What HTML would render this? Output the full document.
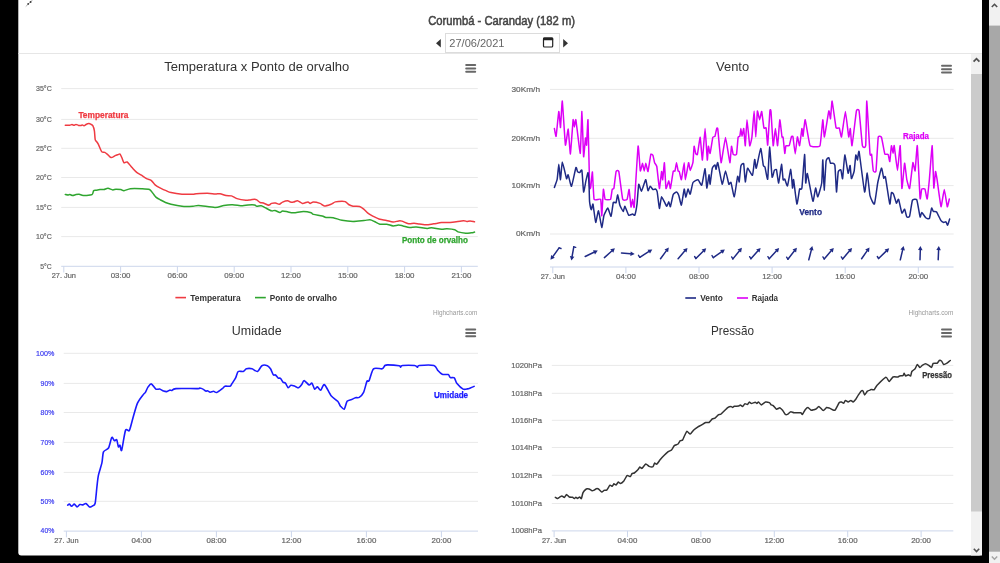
<!DOCTYPE html><html><head><meta charset="utf-8"><style>html,body{margin:0;padding:0;background:#000;width:1000px;height:563px;overflow:hidden}svg{display:block;will-change:transform;font-family:"Liberation Sans",sans-serif}</style></head><body>
<svg width="1000" height="563" viewBox="0 0 1000 563">
<rect width="1000" height="563" fill="#000"/>
<path d="M18.3,0 H982 V552.5 Q982,555.5 979,555.5 H21.3 Q18.3,555.5 18.3,552.5 Z" fill="#fff"/>
<path d="M26,6.3 L32.5,0" stroke="#aaa" stroke-width="0.9" stroke-linecap="round"/>
<g fill="#3a3a3a"><circle cx="28.2" cy="3.9" r="0.95"/><circle cx="30.6" cy="2.0" r="0.95"/></g>
<text x="501.6" y="24.5" font-size="12" fill="#444" text-anchor="middle" textLength="146.8" lengthAdjust="spacingAndGlyphs" stroke="#444" stroke-width="0.5">Corumbá - Caranday (182 m)</text>
<rect x="445.5" y="33.5" width="114" height="19" fill="#fff" stroke="#dcdcdc" stroke-width="1"/>
<text x="449.3" y="47" font-size="11" fill="#666" textLength="55.2" lengthAdjust="spacingAndGlyphs">27/06/2021</text>
<rect x="543.5" y="38" width="9.2" height="9" rx="1" fill="none" stroke="#222" stroke-width="1.2"/>
<rect x="543" y="37.6" width="10.2" height="2.6" rx="0.8" fill="#222"/>
<path d="M436,43.2 L440.8,39 L440.8,47.4 Z" fill="#333"/>
<path d="M568,43.2 L563.2,39 L563.2,47.4 Z" fill="#333"/>
<rect x="18.3" y="53" width="963.7" height="1" fill="#e6e6e6"/>
<rect x="61.2" y="88.10" width="416.6" height="1" fill="#e9e9e9"/>
<text x="51.8" y="90.9" font-size="7.6" fill="#666666" text-anchor="end" textLength="15.8" lengthAdjust="spacingAndGlyphs" stroke="#666666" stroke-width="0.2">35°C</text>
<rect x="61.2" y="118.90" width="416.6" height="1" fill="#e9e9e9"/>
<text x="51.8" y="121.7" font-size="7.6" fill="#666666" text-anchor="end" textLength="15.8" lengthAdjust="spacingAndGlyphs" stroke="#666666" stroke-width="0.2">30°C</text>
<rect x="61.2" y="147.80" width="416.6" height="1" fill="#e9e9e9"/>
<text x="51.8" y="150.6" font-size="7.6" fill="#666666" text-anchor="end" textLength="15.8" lengthAdjust="spacingAndGlyphs" stroke="#666666" stroke-width="0.2">25°C</text>
<rect x="61.2" y="177.00" width="416.6" height="1" fill="#e9e9e9"/>
<text x="51.8" y="179.8" font-size="7.6" fill="#666666" text-anchor="end" textLength="15.8" lengthAdjust="spacingAndGlyphs" stroke="#666666" stroke-width="0.2">20°C</text>
<rect x="61.2" y="206.90" width="416.6" height="1" fill="#e9e9e9"/>
<text x="51.8" y="209.7" font-size="7.6" fill="#666666" text-anchor="end" textLength="15.8" lengthAdjust="spacingAndGlyphs" stroke="#666666" stroke-width="0.2">15°C</text>
<rect x="61.2" y="236.10" width="416.6" height="1" fill="#e9e9e9"/>
<text x="51.8" y="238.9" font-size="7.6" fill="#666666" text-anchor="end" textLength="15.8" lengthAdjust="spacingAndGlyphs" stroke="#666666" stroke-width="0.2">10°C</text>
<text x="51.8" y="268.6" font-size="7.6" fill="#666666" text-anchor="end" textLength="11.5" lengthAdjust="spacingAndGlyphs" stroke="#666666" stroke-width="0.2">5°C</text>
<rect x="61.2" y="265.80" width="416.6" height="1" fill="#ccd6eb"/>
<rect x="63.30" y="266.3" width="1" height="6.2" fill="#ccd6eb"/>
<text x="63.8" y="278.1" font-size="7.8" fill="#666666" text-anchor="middle" textLength="24.3" lengthAdjust="spacingAndGlyphs" stroke="#666666" stroke-width="0.2">27. Jun</text>
<rect x="120.10" y="266.3" width="1" height="6.2" fill="#ccd6eb"/>
<text x="120.6" y="278.1" font-size="7.8" fill="#666666" text-anchor="middle" textLength="19.8" lengthAdjust="spacingAndGlyphs" stroke="#666666" stroke-width="0.2">03:00</text>
<rect x="176.90" y="266.3" width="1" height="6.2" fill="#ccd6eb"/>
<text x="177.4" y="278.1" font-size="7.8" fill="#666666" text-anchor="middle" textLength="19.8" lengthAdjust="spacingAndGlyphs" stroke="#666666" stroke-width="0.2">06:00</text>
<rect x="233.70" y="266.3" width="1" height="6.2" fill="#ccd6eb"/>
<text x="234.2" y="278.1" font-size="7.8" fill="#666666" text-anchor="middle" textLength="19.8" lengthAdjust="spacingAndGlyphs" stroke="#666666" stroke-width="0.2">09:00</text>
<rect x="290.50" y="266.3" width="1" height="6.2" fill="#ccd6eb"/>
<text x="291.0" y="278.1" font-size="7.8" fill="#666666" text-anchor="middle" textLength="19.8" lengthAdjust="spacingAndGlyphs" stroke="#666666" stroke-width="0.2">12:00</text>
<rect x="347.30" y="266.3" width="1" height="6.2" fill="#ccd6eb"/>
<text x="347.8" y="278.1" font-size="7.8" fill="#666666" text-anchor="middle" textLength="19.8" lengthAdjust="spacingAndGlyphs" stroke="#666666" stroke-width="0.2">15:00</text>
<rect x="404.10" y="266.3" width="1" height="6.2" fill="#ccd6eb"/>
<text x="404.6" y="278.1" font-size="7.8" fill="#666666" text-anchor="middle" textLength="19.8" lengthAdjust="spacingAndGlyphs" stroke="#666666" stroke-width="0.2">18:00</text>
<rect x="460.90" y="266.3" width="1" height="6.2" fill="#ccd6eb"/>
<text x="461.4" y="278.1" font-size="7.8" fill="#666666" text-anchor="middle" textLength="19.8" lengthAdjust="spacingAndGlyphs" stroke="#666666" stroke-width="0.2">21:00</text>
<text x="256.75" y="70.8" font-size="12.5" fill="#333333" text-anchor="middle" textLength="185" lengthAdjust="spacingAndGlyphs">Temperatura x Ponto de orvalho</text>
<rect x="465.2" y="64.0" width="11" height="2" rx="1" fill="#686868"/>
<rect x="465.2" y="67.4" width="11" height="2" rx="1" fill="#686868"/>
<rect x="465.2" y="70.8" width="11" height="2" rx="1" fill="#686868"/>
<path d="M65.3,125.2 C65.9,125.2 68.7,125.3 69.6,125.2 C70.5,125.1 71.4,124.6 72.0,124.6 C72.6,124.6 73.5,125.3 74.0,125.3 C74.5,125.3 75.4,124.4 76.0,124.4 C76.6,124.4 77.9,125.3 78.5,125.4 C79.1,125.5 80.3,125.6 80.8,125.5 C81.3,125.4 82.1,124.9 82.5,124.9 C82.9,124.9 83.5,125.8 84.0,125.7 C84.5,125.6 85.4,124.8 86.0,124.5 C86.6,124.2 88.1,123.6 88.8,123.6 C89.5,123.6 90.5,124.0 91.0,124.3 C91.5,124.6 92.3,124.8 92.8,125.7 C93.3,126.6 94.1,128.9 94.4,130.8 C94.7,132.7 94.9,138.2 95.2,139.6 C95.5,141.0 96.1,140.9 96.5,141.5 C96.9,142.1 97.7,143.1 98.4,144.4 C99.1,145.7 100.7,150.5 101.6,151.6 C102.5,152.7 103.9,152.0 104.8,152.4 C105.7,152.8 107.1,154.1 108.0,154.8 C108.9,155.5 110.2,157.5 111.2,157.6 C112.2,157.7 114.3,156.0 115.2,155.6 C116.1,155.2 117.4,154.8 118.0,154.6 C118.6,154.4 119.5,153.5 120.0,154.0 C120.5,154.5 121.5,156.8 122.0,158.0 C122.5,159.2 123.3,162.3 124.0,162.8 C124.7,163.3 126.1,161.4 127.2,162.0 C128.3,162.6 130.7,166.2 132.0,167.6 C133.3,169.0 135.4,171.4 136.7,172.4 C138.0,173.4 140.1,174.3 141.5,175.2 C142.9,176.1 145.8,178.1 147.1,178.8 C148.4,179.5 150.0,179.5 151.1,180.3 C152.2,181.1 153.9,183.8 155.1,184.8 C156.3,185.8 158.6,187.1 160.0,187.8 C161.4,188.5 164.0,189.8 165.5,190.4 C167.0,191.0 168.8,192.1 171.0,192.6 C173.2,193.1 179.1,194.0 182.0,194.2 C184.9,194.4 191.1,194.3 193.0,194.2 C194.9,194.1 194.4,193.8 196.3,193.7 C198.2,193.6 204.8,193.3 207.3,193.3 C209.8,193.3 213.3,193.9 215.0,194.0 C216.7,194.1 218.5,193.5 220.0,193.7 C221.5,193.9 224.5,195.2 226.0,195.5 C227.5,195.8 230.0,195.5 231.5,195.9 C233.0,196.3 235.1,198.0 237.0,198.6 C238.9,199.2 244.0,200.1 245.8,200.3 C247.6,200.5 249.0,200.0 250.2,199.9 C251.4,199.8 253.7,199.2 254.6,199.2 C255.5,199.2 256.1,199.5 256.8,199.9 C257.5,200.3 259.2,202.1 260.1,202.5 C261.0,202.9 262.4,202.7 263.4,203.0 C264.4,203.3 267.0,204.7 267.8,205.0 C268.6,205.3 268.9,205.1 269.4,204.9 C269.9,204.7 270.8,203.7 271.6,203.4 C272.4,203.1 274.5,202.9 275.5,203.0 C276.5,203.1 278.4,204.4 279.3,204.3 C280.2,204.2 281.5,202.6 282.6,202.1 C283.7,201.6 286.6,200.7 287.6,200.7 C288.6,200.7 289.5,201.7 290.3,201.9 C291.1,202.1 292.6,202.3 293.6,202.1 C294.6,201.9 296.3,200.5 297.5,200.7 C298.7,200.9 301.0,203.2 302.4,203.4 C303.8,203.6 306.9,201.9 307.9,201.9 C308.9,201.9 309.4,203.4 310.1,203.4 C310.8,203.4 312.1,202.1 313.4,202.1 C314.7,202.1 318.5,202.9 320.0,203.4 C321.5,203.9 322.9,205.9 324.4,206.0 C325.9,206.1 329.5,204.8 331.0,204.3 C332.5,203.8 333.9,202.3 335.4,201.9 C336.9,201.5 340.7,201.2 342.0,201.2 C343.3,201.2 344.4,201.2 345.3,201.6 C346.2,202.0 347.6,203.9 348.6,204.5 C349.6,205.1 351.5,205.9 353.0,206.2 C354.5,206.5 358.1,206.1 359.6,206.5 C361.1,206.9 363.0,208.5 364.0,209.3 C365.0,210.1 366.4,211.9 367.3,212.6 C368.2,213.3 369.8,214.3 370.6,214.8 C371.4,215.3 372.1,215.7 373.3,216.3 C374.5,216.9 378.1,218.8 379.9,219.3 C381.7,219.8 384.7,220.0 386.5,220.4 C388.3,220.8 391.5,221.9 393.1,222.0 C394.7,222.1 397.4,221.0 398.6,220.9 C399.8,220.8 400.6,220.7 401.9,221.1 C403.2,221.5 406.9,223.4 408.5,223.7 C410.1,224.0 412.5,223.3 414.0,223.3 C415.5,223.3 417.7,223.8 419.5,224.0 C421.3,224.2 425.0,224.9 427.2,224.8 C429.4,224.7 434.1,223.7 436.0,223.4 C437.9,223.1 439.3,222.8 441.5,222.6 C443.7,222.4 449.6,222.5 452.5,222.2 C455.4,221.9 461.6,220.8 463.5,220.7 C465.4,220.6 465.9,221.5 466.8,221.5 C467.7,221.5 469.1,220.9 470.1,220.9 C471.1,220.9 473.9,221.7 474.5,221.8" fill="none" stroke="#ef3b42" stroke-width="1.5" stroke-linejoin="round" stroke-linecap="round"/>
<path d="M65.3,194.4 C65.7,194.5 67.4,195.0 68.0,195.0 C68.6,195.0 69.4,194.5 70.0,194.6 C70.6,194.7 72.0,195.5 72.8,195.5 C73.6,195.5 75.1,194.8 76.0,194.6 C76.9,194.4 78.4,194.2 79.2,194.3 C80.0,194.4 81.1,195.0 82.0,195.2 C82.9,195.4 84.3,195.6 85.6,195.5 C86.9,195.4 90.9,195.3 92.0,194.7 C93.1,194.1 93.1,191.3 93.6,190.7 C94.1,190.1 95.1,190.3 96.0,190.2 C96.9,190.1 98.9,189.7 100.0,189.6 C101.1,189.5 102.9,189.7 104.0,189.5 C105.1,189.3 106.8,188.2 108.0,188.3 C109.2,188.4 111.7,189.8 112.8,189.9 C113.9,190.0 114.9,189.2 116.0,189.2 C117.1,189.2 119.7,189.4 120.8,189.6 C121.9,189.8 122.7,190.8 124.0,190.7 C125.3,190.6 128.1,189.0 130.4,188.7 C132.7,188.4 139.0,188.6 141.5,188.7 C144.0,188.8 148.0,188.9 149.5,189.5 C151.0,190.1 151.8,192.1 152.7,193.1 C153.6,194.1 154.9,196.2 155.9,197.1 C156.9,198.0 158.7,199.0 160.0,199.7 C161.3,200.4 164.0,201.9 165.5,202.5 C167.0,203.1 168.8,203.8 171.0,204.3 C173.2,204.8 179.1,206.0 182.0,206.3 C184.9,206.6 190.8,206.4 193.0,206.3 C195.2,206.2 195.6,205.3 198.5,205.4 C201.4,205.5 211.6,207.4 215.0,207.4 C218.4,207.4 221.5,205.8 223.8,205.4 C226.1,205.0 230.1,204.6 232.6,204.7 C235.1,204.8 240.4,205.8 242.5,205.8 C244.6,205.8 246.4,205.1 248.0,205.0 C249.6,204.9 253.4,204.8 254.6,205.0 C255.8,205.2 255.9,206.2 256.8,206.3 C257.7,206.4 260.1,205.6 261.2,205.8 C262.3,206.0 263.6,206.9 265.0,207.6 C266.4,208.3 270.3,210.5 271.6,210.9 C272.9,211.3 273.8,210.2 274.9,210.4 C276.0,210.6 278.9,212.5 279.9,212.6 C280.9,212.7 281.5,211.0 282.6,210.9 C283.7,210.8 286.6,211.7 288.1,212.0 C289.6,212.3 291.5,212.9 293.6,212.8 C295.7,212.7 301.2,211.5 303.5,211.5 C305.8,211.5 309.9,212.4 311.2,212.8 C312.5,213.2 311.9,214.0 313.4,214.4 C314.9,214.8 320.5,215.5 322.2,215.9 C323.9,216.3 324.5,217.3 326.0,217.5 C327.5,217.7 331.1,217.3 333.2,217.7 C335.3,218.1 339.4,219.8 342.0,220.3 C344.6,220.8 350.1,221.4 353.0,221.4 C355.9,221.4 361.7,220.7 364.0,220.5 C366.3,220.3 368.6,219.7 370.0,219.8 C371.4,219.9 373.1,220.9 374.4,221.5 C375.7,222.1 378.3,223.8 379.9,224.2 C381.5,224.6 384.7,224.0 386.5,224.2 C388.3,224.4 391.5,225.8 393.1,225.9 C394.7,226.0 397.3,225.1 398.6,225.1 C399.9,225.1 401.5,225.6 403.0,225.9 C404.5,226.2 407.8,227.4 409.6,227.5 C411.4,227.6 413.9,226.9 416.2,227.0 C418.5,227.1 425.1,228.3 427.2,228.4 C429.3,228.5 429.7,227.6 431.6,227.7 C433.5,227.8 439.4,229.1 441.5,229.2 C443.6,229.3 445.2,228.7 447.0,228.8 C448.8,228.9 453.2,229.3 454.7,229.7 C456.2,230.1 456.5,231.4 458.0,231.9 C459.5,232.4 463.9,233.1 465.7,233.2 C467.5,233.3 470.0,232.9 471.2,232.8 C472.4,232.7 474.1,232.2 474.5,232.1" fill="none" stroke="#2fa52f" stroke-width="1.5" stroke-linejoin="round" stroke-linecap="round"/>
<text x="78.4" y="118" font-size="8.3" fill="#ef3b42" font-weight="bold" textLength="50" lengthAdjust="spacingAndGlyphs" stroke="#ef3b42" stroke-width="0.25">Temperatura</text>
<text x="401.9" y="242.7" font-size="8.3" fill="#2fa52f" font-weight="bold" textLength="66" lengthAdjust="spacingAndGlyphs" stroke="#2fa52f" stroke-width="0.25">Ponto de orvalho</text>
<rect x="175.4" y="296.8" width="10.6" height="1.6" fill="#ef3b42"/>
<text x="190.2" y="300.8" font-size="8.6" fill="#333" font-weight="bold" textLength="50.4" lengthAdjust="spacingAndGlyphs">Temperatura</text>
<rect x="255" y="296.8" width="10.8" height="1.6" fill="#2fa52f"/>
<text x="269.8" y="300.8" font-size="8.6" fill="#333" font-weight="bold" textLength="67.1" lengthAdjust="spacingAndGlyphs">Ponto de orvalho</text>
<text x="477.4" y="314.8" font-size="6.6" fill="#999" text-anchor="end" textLength="44.5" lengthAdjust="spacingAndGlyphs">Highcharts.com</text>
<rect x="550" y="88.90" width="403.6" height="1" fill="#e9e9e9"/>
<text x="540" y="91.7" font-size="7.6" fill="#666666" text-anchor="end" textLength="28.5" lengthAdjust="spacingAndGlyphs" stroke="#666666" stroke-width="0.2">30Km/h</text>
<rect x="550" y="137.80" width="403.6" height="1" fill="#e9e9e9"/>
<text x="540" y="140.6" font-size="7.6" fill="#666666" text-anchor="end" textLength="28.5" lengthAdjust="spacingAndGlyphs" stroke="#666666" stroke-width="0.2">20Km/h</text>
<rect x="550" y="185.10" width="403.6" height="1" fill="#e9e9e9"/>
<text x="540" y="187.9" font-size="7.6" fill="#666666" text-anchor="end" textLength="28.5" lengthAdjust="spacingAndGlyphs" stroke="#666666" stroke-width="0.2">10Km/h</text>
<rect x="550" y="233.50" width="403.6" height="1" fill="#e9e9e9"/>
<text x="540" y="236.3" font-size="7.6" fill="#666666" text-anchor="end" textLength="24" lengthAdjust="spacingAndGlyphs" stroke="#666666" stroke-width="0.2">0Km/h</text>
<rect x="550" y="266.50" width="403.6" height="1" fill="#ccd6eb"/>
<rect x="552.30" y="267" width="1" height="6.2" fill="#ccd6eb"/>
<text x="552.8" y="278.7" font-size="7.8" fill="#666666" text-anchor="middle" textLength="24.3" lengthAdjust="spacingAndGlyphs" stroke="#666666" stroke-width="0.2">27. Jun</text>
<rect x="625.40" y="267" width="1" height="6.2" fill="#ccd6eb"/>
<text x="625.9" y="278.7" font-size="7.8" fill="#666666" text-anchor="middle" textLength="19.8" lengthAdjust="spacingAndGlyphs" stroke="#666666" stroke-width="0.2">04:00</text>
<rect x="698.50" y="267" width="1" height="6.2" fill="#ccd6eb"/>
<text x="699.0" y="278.7" font-size="7.8" fill="#666666" text-anchor="middle" textLength="19.8" lengthAdjust="spacingAndGlyphs" stroke="#666666" stroke-width="0.2">08:00</text>
<rect x="771.60" y="267" width="1" height="6.2" fill="#ccd6eb"/>
<text x="772.1" y="278.7" font-size="7.8" fill="#666666" text-anchor="middle" textLength="19.8" lengthAdjust="spacingAndGlyphs" stroke="#666666" stroke-width="0.2">12:00</text>
<rect x="844.70" y="267" width="1" height="6.2" fill="#ccd6eb"/>
<text x="845.2" y="278.7" font-size="7.8" fill="#666666" text-anchor="middle" textLength="19.8" lengthAdjust="spacingAndGlyphs" stroke="#666666" stroke-width="0.2">16:00</text>
<rect x="917.80" y="267" width="1" height="6.2" fill="#ccd6eb"/>
<text x="918.3" y="278.7" font-size="7.8" fill="#666666" text-anchor="middle" textLength="19.8" lengthAdjust="spacingAndGlyphs" stroke="#666666" stroke-width="0.2">20:00</text>
<text x="732.6" y="70.6" font-size="12.5" fill="#333333" text-anchor="middle" textLength="33" lengthAdjust="spacingAndGlyphs">Vento</text>
<rect x="941.0" y="64.8" width="11" height="2" rx="1" fill="#686868"/>
<rect x="941.0" y="68.2" width="11" height="2" rx="1" fill="#686868"/>
<rect x="941.0" y="71.6" width="11" height="2" rx="1" fill="#686868"/>
<path d="M554.4,128.6 C554.5,129.0 555.8,137.3 556.1,136.3 C556.4,135.3 558.5,112.0 558.8,111.5 C559.1,111.0 560.3,128.1 560.5,127.5 C560.7,126.9 562.0,100.1 562.3,101.1 C562.6,102.1 565.1,143.5 565.4,145.1 C565.7,146.7 567.9,128.6 568.2,129.1 C568.5,129.6 570.1,154.4 570.4,153.9 C570.7,153.4 572.9,121.4 573.1,119.8 C573.3,118.2 574.2,126.9 574.4,126.9 C574.6,126.9 575.6,118.3 575.9,119.8 C576.2,121.3 579.9,153.9 580.3,153.4 C580.6,152.9 581.7,111.3 581.9,111.5 C582.1,111.7 583.4,155.2 583.6,156.7 C583.8,158.2 585.3,138.7 585.5,138.0 C585.7,137.3 586.5,146.2 586.6,145.1 C586.7,144.0 587.8,117.4 588.0,119.8 C588.2,122.2 589.4,182.4 589.6,186.3 C589.8,190.2 590.5,188.2 590.7,187.4 C590.9,186.6 592.2,171.3 592.4,172.0 C592.6,172.7 593.6,197.7 594.1,199.3 C594.6,200.9 600.3,198.3 600.7,199.3 C601.1,200.3 601.6,216.4 601.8,215.8 C602.0,215.2 603.2,190.4 603.4,189.4 C603.6,188.4 604.7,198.7 605.1,199.3 C605.5,199.9 610.2,199.9 610.6,199.3 C611.0,198.7 612.0,190.0 612.2,189.4 C612.4,188.8 613.7,189.3 613.9,188.3 C614.1,187.3 615.8,172.5 616.1,171.5 C616.4,170.5 618.4,169.9 618.8,171.5 C619.2,173.1 622.2,197.7 622.7,199.3 C623.2,200.9 626.7,199.9 627.1,199.3 C627.5,198.7 628.9,189.0 629.1,189.4 C629.3,189.8 630.8,206.4 631.0,207.0 C631.2,207.6 632.4,199.3 632.6,199.3 C632.8,199.3 633.9,210.1 634.2,207.0 C634.5,203.9 637.7,148.3 638.1,146.2 C638.5,144.1 640.0,169.9 640.3,170.9 C640.6,171.9 642.3,163.2 642.5,163.2 C642.7,163.2 644.0,170.9 644.2,170.9 C644.4,170.9 645.6,163.2 645.8,163.2 C646.0,163.2 647.7,172.0 648.0,171.5 C648.3,171.0 650.5,155.3 650.8,154.4 C651.1,153.5 652.8,155.0 653.0,155.5 C653.2,156.0 654.4,162.1 654.6,162.7 C654.8,163.3 656.5,165.0 656.8,166.5 C657.1,168.0 659.1,188.2 659.4,188.5 C659.7,188.8 661.4,172.0 661.6,171.5 C661.8,171.0 662.5,180.2 662.7,179.7 C662.9,179.2 664.2,162.2 664.4,162.7 C664.6,163.2 665.7,187.4 666.0,188.5 C666.3,189.6 668.5,180.8 668.8,180.8 C669.1,180.8 670.1,189.0 670.4,188.5 C670.7,188.0 672.9,172.5 673.2,171.5 C673.5,170.5 674.8,171.5 675.0,171.0 C675.2,170.5 676.3,162.7 676.5,162.7 C676.7,162.7 677.9,170.4 678.1,170.9 C678.3,171.4 679.1,171.0 679.3,171.5 C679.5,172.0 681.1,180.2 681.4,179.7 C681.7,179.2 684.0,162.7 684.2,162.7 C684.4,162.7 685.0,179.7 685.3,179.7 C685.6,179.7 688.3,163.2 688.6,162.7 C688.9,162.2 689.9,170.4 690.2,170.4 C690.5,170.4 692.8,163.5 693.0,162.1 C693.2,160.7 693.9,146.7 694.1,146.2 C694.3,145.7 695.5,152.9 695.7,153.4 C695.9,153.9 697.1,155.4 697.4,154.5 C697.7,153.6 699.9,137.1 700.2,137.4 C700.5,137.7 702.1,160.5 702.4,160.0 C702.7,159.5 704.8,128.6 705.1,128.6 C705.4,128.6 707.1,159.0 707.3,160.0 C707.5,161.0 708.2,146.6 708.4,146.2 C708.6,145.8 709.8,153.9 710.1,153.4 C710.4,152.9 712.5,138.4 712.8,137.4 C713.1,136.4 714.8,136.8 715.0,136.3 C715.2,135.8 716.5,129.0 716.7,128.6 C716.9,128.2 717.5,127.1 717.8,129.1 C718.1,131.1 720.7,162.2 721.1,162.7 C721.5,163.2 725.0,137.4 725.5,137.4 C726.0,137.4 729.5,162.2 729.9,162.7 C730.2,163.2 731.3,146.7 731.5,146.2 C731.7,145.7 732.9,153.9 733.2,154.4 C733.5,154.9 736.2,155.4 736.5,154.4 C736.8,153.4 737.9,138.5 738.1,137.4 C738.3,136.3 739.6,136.8 739.8,136.3 C740.0,135.8 740.8,128.6 740.9,128.6 C741.0,128.6 741.8,136.3 742.0,136.3 C742.2,136.3 743.5,128.1 743.7,128.6 C743.9,129.1 745.1,146.2 745.3,145.7 C745.5,145.2 746.7,119.8 747.0,119.8 C747.3,119.8 749.4,144.7 749.7,145.7 C750.0,146.7 751.6,139.4 751.9,137.4 C752.2,135.4 753.9,111.0 754.1,111.0 C754.3,111.0 755.6,136.9 755.8,136.9 C756.0,136.9 757.2,112.0 757.4,111.0 C757.6,110.0 759.3,119.8 759.6,119.8 C759.9,119.8 761.4,111.0 761.7,111.5 C762.0,112.0 763.6,127.0 763.9,128.0 C764.2,129.0 765.9,127.0 766.1,128.0 C766.3,129.0 767.5,146.1 767.7,145.1 C767.9,144.1 769.7,113.0 769.9,111.0 C770.1,109.0 770.8,109.5 771.0,111.5 C771.2,113.5 772.9,144.7 773.2,145.7 C773.5,146.7 775.1,128.6 775.4,128.6 C775.7,128.6 777.3,146.2 777.6,145.7 C777.9,145.2 779.5,120.3 779.8,119.8 C780.1,119.3 781.8,135.9 782.0,136.9 C782.2,137.9 782.9,136.4 783.1,137.4 C783.3,138.4 784.6,152.9 784.8,153.4 C785.0,153.9 785.6,146.1 785.9,145.7 C786.2,145.3 788.9,146.2 789.2,145.7 C789.5,145.2 791.2,137.4 791.4,136.9 C791.6,136.4 792.8,135.9 793.0,136.9 C793.2,137.9 794.9,153.9 795.2,153.9 C795.5,153.9 797.1,137.4 797.4,136.9 C797.7,136.4 799.3,146.2 799.6,145.7 C799.9,145.2 801.7,129.1 801.9,128.6 C802.1,128.1 802.8,136.8 803.0,136.3 C803.2,135.8 804.8,119.3 805.2,119.8 C805.6,120.3 809.2,144.2 810.1,145.7 C811.0,147.2 819.3,147.2 820.0,145.7 C820.7,144.2 822.5,120.3 822.8,119.8 C823.1,119.3 824.0,137.4 824.4,136.9 C824.8,136.4 828.4,112.1 828.8,111.0 C829.2,109.9 830.3,119.3 830.5,118.7 C830.7,118.1 831.8,100.6 832.1,101.1 C832.4,101.6 835.6,125.9 836.0,127.5 C836.4,129.1 839.0,127.5 839.3,128.0 C839.6,128.5 841.1,137.9 841.5,136.9 C841.9,135.9 845.0,111.5 845.4,111.5 C845.8,111.5 848.4,135.9 848.7,136.9 C849.0,137.9 850.1,128.1 850.3,128.6 C850.5,129.1 851.6,146.7 852.0,145.7 C852.4,144.7 856.0,113.0 856.4,111.0 C856.8,109.0 858.8,109.0 859.1,111.0 C859.5,113.0 862.0,143.7 862.4,145.7 C862.8,147.7 865.4,148.3 865.7,145.7 C866.0,143.1 866.5,100.6 866.8,101.1 C867.1,101.6 869.7,150.8 870.0,153.9 C870.3,157.0 871.4,153.4 871.6,154.4 C871.8,155.4 873.0,169.9 873.3,170.9 C873.6,171.9 875.7,172.9 876.0,170.9 C876.3,168.9 877.9,139.4 878.2,137.4 C878.5,135.4 881.1,136.4 881.5,137.4 C881.9,138.4 884.4,152.9 884.8,153.9 C885.2,154.9 887.8,154.0 888.1,154.4 C888.4,154.8 889.6,162.1 889.8,161.6 C890.0,161.1 891.2,146.2 891.4,145.7 C891.6,145.2 892.9,153.3 893.1,153.3 C893.3,153.3 893.9,144.7 894.2,145.7 C894.5,146.7 897.1,170.4 897.5,170.4 C897.9,170.4 899.9,144.6 900.2,145.7 C900.5,146.8 901.6,187.5 901.9,188.5 C902.2,189.5 904.3,163.7 904.6,163.2 C904.9,162.7 906.5,178.2 906.8,179.7 C907.1,181.2 909.2,189.5 909.6,188.5 C910.0,187.5 912.6,163.7 912.9,162.7 C913.2,161.7 914.8,171.9 915.1,170.9 C915.4,169.9 917.0,144.1 917.3,145.7 C917.6,147.3 919.8,196.0 920.1,198.5 C920.4,201.0 921.4,189.6 921.7,189.1 C922.0,188.6 924.7,188.5 925.0,189.1 C925.3,189.7 926.9,199.6 927.2,199.0 C927.5,198.4 929.1,182.3 929.4,179.2 C929.7,176.1 931.9,145.2 932.2,145.7 C932.5,146.2 933.6,186.5 933.8,188.0 C934.0,189.5 935.3,172.0 935.5,171.5 C935.7,171.0 936.8,177.6 937.1,179.7 C937.4,181.8 940.6,206.1 941.0,206.7 C941.4,207.3 943.9,189.6 944.3,189.6 C944.7,189.6 947.0,206.3 947.3,206.8 C947.6,207.3 949.2,199.5 949.3,199.0" fill="none" stroke="#dd00f7" stroke-width="1.5" stroke-linejoin="round" stroke-linecap="round"/>
<path d="M554.4,187.4 C554.6,186.8 556.9,180.9 557.2,179.2 C557.5,177.5 558.6,164.3 558.8,164.3 C559.0,164.3 560.2,179.9 560.5,179.7 C560.8,179.5 561.8,162.2 562.3,162.1 C562.8,162.0 566.1,177.6 566.5,178.6 C566.9,179.6 567.8,174.2 568.2,174.8 C568.6,175.4 570.9,186.8 571.5,186.3 C572.1,185.8 575.4,168.7 575.9,167.6 C576.4,166.5 577.2,171.1 577.5,171.5 C577.8,171.9 579.4,172.7 579.7,172.6 C580.0,172.5 581.6,169.0 581.9,170.4 C582.2,171.8 583.3,191.1 583.6,191.9 C583.9,192.7 585.5,182.8 585.8,181.4 C586.1,180.0 587.8,172.2 588.0,172.6 C588.2,173.0 589.0,184.4 589.1,186.6 C589.2,188.8 589.4,200.3 589.6,202.0 C589.8,203.7 591.0,209.5 591.3,209.7 C591.6,209.9 592.7,203.2 593.0,204.2 C593.3,205.2 595.3,221.9 595.7,222.4 C596.1,222.9 598.0,210.4 598.5,210.8 C599.0,211.2 601.4,227.1 601.8,227.4 C602.2,227.7 603.5,216.6 604.0,215.2 C604.5,213.8 607.3,208.0 607.8,208.1 C608.3,208.2 610.7,216.7 611.1,216.3 C611.5,215.9 612.9,203.6 613.3,202.6 C613.7,201.6 615.8,203.2 616.1,202.6 C616.4,202.0 617.4,194.7 617.7,194.9 C618.0,195.1 619.5,204.1 619.9,205.3 C620.3,206.5 622.8,211.3 623.2,211.4 C623.6,211.5 624.5,206.1 624.9,206.4 C625.3,206.7 628.1,214.6 628.7,215.2 C629.3,215.8 632.1,214.1 632.6,214.1 C633.1,214.1 634.5,215.9 634.8,215.2 C635.1,214.5 636.7,206.5 637.0,204.2 C637.3,201.9 638.4,185.4 638.7,184.4 C639.0,183.4 641.0,191.4 641.4,191.3 C641.8,191.2 643.9,184.5 644.2,183.6 C644.5,182.7 645.5,179.2 645.8,179.7 C646.1,180.2 647.7,190.2 648.0,190.7 C648.3,191.2 649.8,186.4 650.2,186.3 C650.6,186.2 652.6,189.4 653.0,189.6 C653.4,189.8 655.4,188.9 655.7,189.1 C656.0,189.3 656.9,190.5 657.2,191.9 C657.5,193.3 659.1,208.0 659.4,208.4 C659.7,208.8 661.1,197.0 661.6,196.8 C662.1,196.6 666.1,205.8 666.6,206.2 C667.1,206.6 668.5,201.8 668.8,201.8 C669.1,201.8 670.1,207.2 670.4,206.7 C670.7,206.2 672.7,195.7 673.2,194.6 C673.7,193.5 676.1,191.9 676.5,191.9 C676.9,191.9 678.3,194.2 678.7,195.2 C679.1,196.2 681.0,205.6 681.4,205.1 C681.8,204.6 683.9,189.7 684.2,189.1 C684.5,188.5 685.5,197.4 685.8,197.4 C686.1,197.4 687.7,189.3 688.0,189.1 C688.3,188.9 689.8,194.6 690.2,194.1 C690.6,193.6 692.4,183.6 693.0,182.5 C693.6,181.4 697.3,179.5 698.0,179.7 C698.7,179.9 701.3,186.0 701.8,185.2 C702.3,184.4 704.7,168.5 705.1,168.7 C705.5,168.9 706.5,187.5 706.8,188.0 C707.1,188.5 708.8,175.1 709.0,174.8 C709.2,174.5 709.9,184.6 710.1,184.1 C710.3,183.6 711.9,169.6 712.3,168.2 C712.7,166.8 714.7,164.8 715.0,164.9 C715.3,165.0 715.9,169.5 716.1,169.3 C716.3,169.1 717.3,161.6 717.8,162.7 C718.3,163.8 721.6,183.5 722.2,184.1 C722.8,184.7 725.0,170.9 725.5,170.9 C726.0,170.9 728.4,183.2 728.8,184.1 C729.2,185.0 730.6,181.5 731.0,182.5 C731.4,183.5 733.8,197.3 734.3,196.8 C734.8,196.3 737.2,177.5 737.6,176.4 C738.0,175.3 739.0,182.7 739.2,181.9 C739.4,181.1 740.6,167.4 740.9,166.0 C741.2,164.6 743.4,162.6 743.7,163.8 C744.0,165.0 745.0,181.6 745.3,181.9 C745.6,182.2 747.0,168.7 747.5,168.2 C748.0,167.7 752.0,176.0 752.5,175.3 C753.0,174.6 754.4,159.9 754.7,159.4 C755.0,158.9 755.8,169.0 756.3,168.2 C756.8,167.4 760.2,148.6 760.7,148.4 C761.2,148.2 763.0,164.0 763.3,165.4 C763.6,166.8 764.7,166.1 765.0,167.1 C765.3,168.1 767.4,180.7 767.7,179.2 C768.0,177.7 769.3,147.2 769.6,147.0 C769.9,146.8 771.7,175.2 772.1,177.0 C772.5,178.8 774.0,170.9 774.3,170.4 C774.6,169.9 776.2,168.9 776.5,169.8 C776.8,170.7 778.3,183.4 778.7,183.0 C779.1,182.6 781.2,164.5 781.5,164.3 C781.8,164.1 782.9,178.6 783.1,179.7 C783.3,180.8 784.5,178.7 784.8,179.2 C785.1,179.7 787.0,186.5 787.5,185.8 C788.0,185.1 790.4,169.1 790.8,169.3 C791.2,169.5 792.3,187.2 792.5,188.0 C792.7,188.8 793.3,178.5 793.6,179.7 C793.9,180.9 796.4,203.3 796.9,204.0 C797.4,204.7 799.2,190.3 799.6,189.1 C800.0,187.9 801.5,190.6 801.9,188.0 C802.3,185.4 804.3,154.9 804.6,154.5 C804.9,154.1 805.5,181.6 805.7,183.0 C805.9,184.4 806.9,172.3 807.4,173.7 C807.9,175.1 812.3,200.1 812.9,201.2 C813.5,202.3 815.2,188.3 815.6,188.0 C816.0,187.7 817.3,197.2 817.8,196.8 C818.3,196.4 821.3,185.8 821.7,183.0 C822.1,180.2 822.6,159.4 822.8,159.9 C823.0,160.4 824.0,190.1 824.2,190.2 C824.4,190.3 825.8,163.4 826.1,161.0 C826.4,158.6 828.5,157.5 828.8,157.7 C829.1,157.9 830.2,162.8 830.5,163.2 C830.8,163.6 832.4,163.0 832.7,163.2 C833.0,163.4 834.6,163.2 834.9,165.4 C835.2,167.6 836.3,191.4 836.5,191.9 C836.7,192.4 837.9,173.7 838.2,172.0 C838.5,170.3 840.6,169.3 840.9,169.8 C841.2,170.3 842.3,179.7 842.6,178.6 C842.9,177.5 844.4,155.4 844.8,155.0 C845.2,154.6 847.7,172.3 848.1,173.1 C848.5,173.9 849.9,165.0 850.1,165.4 C850.3,165.8 851.1,178.2 851.4,178.6 C851.7,179.0 853.9,172.7 854.2,170.9 C854.5,169.1 855.6,155.8 855.8,155.0 C856.0,154.2 857.3,160.1 857.5,159.9 C857.7,159.7 858.6,149.3 859.1,151.7 C859.6,154.1 864.0,190.3 864.6,191.9 C865.2,193.5 866.8,172.8 867.2,173.1 C867.6,173.4 869.5,193.4 870.0,195.7 C870.5,198.0 873.8,205.0 874.4,204.0 C875.0,203.0 877.2,185.7 877.7,183.0 C878.2,180.3 881.0,168.6 881.5,168.2 C882.0,167.8 883.4,177.4 883.7,178.1 C884.0,178.8 884.9,175.1 885.4,177.0 C885.9,178.9 889.3,202.8 889.8,204.0 C890.2,205.2 891.1,193.4 891.4,192.7 C891.7,192.0 893.2,193.5 893.6,194.3 C894.0,195.1 896.0,202.7 896.4,203.1 C896.8,203.5 898.2,198.6 898.6,199.3 C899.0,200.0 901.4,212.3 901.9,213.0 C902.4,213.7 904.2,208.9 904.6,209.2 C905.0,209.5 906.4,216.4 906.8,216.9 C907.2,217.4 909.2,217.5 909.6,216.3 C910.0,215.1 911.9,201.6 912.4,200.4 C912.9,199.2 916.2,198.6 916.8,199.8 C917.4,201.0 919.7,215.9 920.1,216.9 C920.5,217.9 921.2,212.4 921.7,212.5 C922.2,212.6 925.5,217.6 926.1,218.0 C926.7,218.4 929.0,219.2 929.4,218.5 C929.8,217.8 931.3,208.6 931.6,208.1 C931.9,207.6 932.9,211.1 933.3,211.4 C933.7,211.7 936.0,211.2 936.6,211.9 C937.2,212.6 940.5,219.9 941.0,220.7 C941.5,221.5 943.3,222.3 943.7,222.4 C944.1,222.5 945.6,221.6 945.9,221.8 C946.2,222.0 947.3,225.4 947.6,225.2 C947.9,225.0 949.5,219.6 949.6,219.1" fill="none" stroke="#1f2a85" stroke-width="1.5" stroke-linejoin="round" stroke-linecap="round"/>
<text x="903" y="139.1" font-size="8.3" fill="#dd00f7" font-weight="bold" textLength="26" lengthAdjust="spacingAndGlyphs" stroke="#dd00f7" stroke-width="0.25">Rajada</text>
<text x="799.3" y="214.8" font-size="8.3" fill="#1f2a85" font-weight="bold" textLength="22.7" lengthAdjust="spacingAndGlyphs" stroke="#1f2a85" stroke-width="0.25">Vento</text>
<line x1="559.1" y1="247.9" x2="553.0" y2="256.4" stroke="#1f2a85" stroke-width="1.5" stroke-linecap="round"/>
<path d="M550.5,259.8 L551.1,255.0 L554.8,257.7 Z" fill="#1f2a85"/>
<path d="M559.1,247.9 L561.0,248.5" stroke="#1f2a85" stroke-width="1.4" stroke-linecap="round"/>
<line x1="573.8" y1="246.8" x2="572.1" y2="256.3" stroke="#1f2a85" stroke-width="1.5" stroke-linecap="round"/>
<path d="M571.4,260.4 L569.9,255.9 L574.4,256.7 Z" fill="#1f2a85"/>
<path d="M573.8,246.8 L575.7,247.4" stroke="#1f2a85" stroke-width="1.4" stroke-linecap="round"/>
<line x1="585.2" y1="256.5" x2="594.0" y2="252.3" stroke="#1f2a85" stroke-width="1.5" stroke-linecap="round"/>
<path d="M597.8,250.5 L595.0,254.4 L593.0,250.2 Z" fill="#1f2a85"/>
<line x1="604.4" y1="257.6" x2="611.8" y2="251.0" stroke="#1f2a85" stroke-width="1.5" stroke-linecap="round"/>
<path d="M614.9,248.2 L613.3,252.7 L610.2,249.3 Z" fill="#1f2a85"/>
<line x1="621.5" y1="253.0" x2="630.5" y2="253.8" stroke="#1f2a85" stroke-width="1.5" stroke-linecap="round"/>
<path d="M634.7,254.1 L630.3,256.0 L630.7,251.5 Z" fill="#1f2a85"/>
<line x1="639.8" y1="257.3" x2="648.7" y2="251.6" stroke="#1f2a85" stroke-width="1.5" stroke-linecap="round"/>
<path d="M652.3,249.4 L650.0,253.6 L647.5,249.7 Z" fill="#1f2a85"/>
<path d="M638.5,255.3 L639.8,257.3" stroke="#1f2a85" stroke-width="1.4" stroke-linecap="round"/>
<line x1="660.5" y1="258.7" x2="666.3" y2="250.9" stroke="#1f2a85" stroke-width="1.5" stroke-linecap="round"/>
<path d="M668.8,247.5 L668.1,252.2 L664.5,249.5 Z" fill="#1f2a85"/>
<line x1="678.1" y1="258.7" x2="684.7" y2="251.1" stroke="#1f2a85" stroke-width="1.5" stroke-linecap="round"/>
<path d="M687.5,247.9 L686.5,252.6 L683.0,249.6 Z" fill="#1f2a85"/>
<line x1="695.9" y1="258.5" x2="703.2" y2="251.2" stroke="#1f2a85" stroke-width="1.5" stroke-linecap="round"/>
<path d="M706.2,248.2 L704.9,252.8 L701.6,249.5 Z" fill="#1f2a85"/>
<path d="M694.6,256.5 L695.9,258.5" stroke="#1f2a85" stroke-width="1.4" stroke-linecap="round"/>
<line x1="713.3" y1="257.6" x2="721.5" y2="251.8" stroke="#1f2a85" stroke-width="1.5" stroke-linecap="round"/>
<path d="M724.9,249.4 L722.8,253.7 L720.1,249.9 Z" fill="#1f2a85"/>
<path d="M712.0,255.6 L713.3,257.6" stroke="#1f2a85" stroke-width="1.4" stroke-linecap="round"/>
<line x1="732.9" y1="258.9" x2="739.3" y2="251.0" stroke="#1f2a85" stroke-width="1.5" stroke-linecap="round"/>
<path d="M741.9,247.7 L741.1,252.4 L737.5,249.5 Z" fill="#1f2a85"/>
<path d="M731.6,256.9 L732.9,258.9" stroke="#1f2a85" stroke-width="1.4" stroke-linecap="round"/>
<line x1="750.9" y1="258.7" x2="757.8" y2="251.0" stroke="#1f2a85" stroke-width="1.5" stroke-linecap="round"/>
<path d="M760.6,247.9 L759.5,252.6 L756.1,249.5 Z" fill="#1f2a85"/>
<path d="M749.6,256.7 L750.9,258.7" stroke="#1f2a85" stroke-width="1.4" stroke-linecap="round"/>
<line x1="769.2" y1="258.7" x2="776.3" y2="251.0" stroke="#1f2a85" stroke-width="1.5" stroke-linecap="round"/>
<path d="M779.1,247.9 L778.0,252.6 L774.6,249.4 Z" fill="#1f2a85"/>
<path d="M767.9,256.7 L769.2,258.7" stroke="#1f2a85" stroke-width="1.4" stroke-linecap="round"/>
<line x1="787.9" y1="259.2" x2="794.3" y2="251.0" stroke="#1f2a85" stroke-width="1.5" stroke-linecap="round"/>
<path d="M796.9,247.7 L796.1,252.4 L792.5,249.6 Z" fill="#1f2a85"/>
<path d="M786.6,257.2 L787.9,259.2" stroke="#1f2a85" stroke-width="1.4" stroke-linecap="round"/>
<line x1="808.8" y1="259.8" x2="811.3" y2="250.1" stroke="#1f2a85" stroke-width="1.5" stroke-linecap="round"/>
<path d="M812.3,246.0 L813.5,250.6 L809.0,249.5 Z" fill="#1f2a85"/>
<line x1="824.2" y1="258.9" x2="831.0" y2="251.1" stroke="#1f2a85" stroke-width="1.5" stroke-linecap="round"/>
<path d="M833.8,247.9 L832.8,252.6 L829.3,249.6 Z" fill="#1f2a85"/>
<path d="M822.9,256.9 L824.2,258.9" stroke="#1f2a85" stroke-width="1.4" stroke-linecap="round"/>
<line x1="842.6" y1="258.9" x2="849.4" y2="251.1" stroke="#1f2a85" stroke-width="1.5" stroke-linecap="round"/>
<path d="M852.1,247.9 L851.1,252.6 L847.6,249.6 Z" fill="#1f2a85"/>
<path d="M841.3,256.9 L842.6,258.9" stroke="#1f2a85" stroke-width="1.4" stroke-linecap="round"/>
<line x1="861.6" y1="258.7" x2="867.1" y2="250.9" stroke="#1f2a85" stroke-width="1.5" stroke-linecap="round"/>
<path d="M869.5,247.5 L869.0,252.3 L865.2,249.6 Z" fill="#1f2a85"/>
<line x1="878.6" y1="258.5" x2="886.2" y2="251.1" stroke="#1f2a85" stroke-width="1.5" stroke-linecap="round"/>
<path d="M889.2,248.2 L887.8,252.8 L884.6,249.5 Z" fill="#1f2a85"/>
<path d="M877.3,256.5 L878.6,258.5" stroke="#1f2a85" stroke-width="1.4" stroke-linecap="round"/>
<line x1="900.3" y1="259.8" x2="902.6" y2="250.1" stroke="#1f2a85" stroke-width="1.5" stroke-linecap="round"/>
<path d="M903.6,246.0 L904.9,250.6 L900.4,249.5 Z" fill="#1f2a85"/>
<line x1="920.0" y1="259.8" x2="920.3" y2="250.2" stroke="#1f2a85" stroke-width="1.5" stroke-linecap="round"/>
<path d="M920.4,246.0 L922.6,250.3 L918.0,250.1 Z" fill="#1f2a85"/>
<line x1="938.2" y1="259.8" x2="938.6" y2="250.2" stroke="#1f2a85" stroke-width="1.5" stroke-linecap="round"/>
<path d="M938.8,246.0 L940.9,250.3 L936.3,250.1 Z" fill="#1f2a85"/>
<rect x="685.3" y="297.2" width="10.7" height="1.6" fill="#1f2a85"/>
<text x="700.2" y="301" font-size="8.6" fill="#333" font-weight="bold" textLength="22.8" lengthAdjust="spacingAndGlyphs">Vento</text>
<rect x="737" y="297.2" width="11" height="1.6" fill="#dd00f7"/>
<text x="751.7" y="301" font-size="8.6" fill="#333" font-weight="bold" textLength="26.3" lengthAdjust="spacingAndGlyphs">Rajada</text>
<text x="953.3" y="314.8" font-size="6.6" fill="#999" text-anchor="end" textLength="44.7" lengthAdjust="spacingAndGlyphs">Highcharts.com</text>
<rect x="63.7" y="352.80" width="414.3" height="1" fill="#e9e9e9"/>
<text x="54.3" y="355.6" font-size="7.6" fill="#3a3af0" text-anchor="end" textLength="18.3" lengthAdjust="spacingAndGlyphs" stroke="#3a3af0" stroke-width="0.2">100%</text>
<rect x="63.7" y="382.90" width="414.3" height="1" fill="#e9e9e9"/>
<text x="54.3" y="385.7" font-size="7.6" fill="#3a3af0" text-anchor="end" textLength="13.7" lengthAdjust="spacingAndGlyphs" stroke="#3a3af0" stroke-width="0.2">90%</text>
<rect x="63.7" y="412.00" width="414.3" height="1" fill="#e9e9e9"/>
<text x="54.3" y="414.8" font-size="7.6" fill="#3a3af0" text-anchor="end" textLength="13.7" lengthAdjust="spacingAndGlyphs" stroke="#3a3af0" stroke-width="0.2">80%</text>
<rect x="63.7" y="441.90" width="414.3" height="1" fill="#e9e9e9"/>
<text x="54.3" y="444.7" font-size="7.6" fill="#3a3af0" text-anchor="end" textLength="13.7" lengthAdjust="spacingAndGlyphs" stroke="#3a3af0" stroke-width="0.2">70%</text>
<rect x="63.7" y="471.90" width="414.3" height="1" fill="#e9e9e9"/>
<text x="54.3" y="474.7" font-size="7.6" fill="#3a3af0" text-anchor="end" textLength="13.7" lengthAdjust="spacingAndGlyphs" stroke="#3a3af0" stroke-width="0.2">60%</text>
<rect x="63.7" y="500.80" width="414.3" height="1" fill="#e9e9e9"/>
<text x="54.3" y="503.6" font-size="7.6" fill="#3a3af0" text-anchor="end" textLength="13.7" lengthAdjust="spacingAndGlyphs" stroke="#3a3af0" stroke-width="0.2">50%</text>
<text x="54.3" y="533.4" font-size="7.6" fill="#3a3af0" text-anchor="end" textLength="13.7" lengthAdjust="spacingAndGlyphs" stroke="#3a3af0" stroke-width="0.2">40%</text>
<rect x="63.7" y="530.60" width="414.3" height="1" fill="#ccd6eb"/>
<rect x="65.90" y="531.1" width="1" height="6.2" fill="#ccd6eb"/>
<text x="66.4" y="542.8" font-size="7.8" fill="#666666" text-anchor="middle" textLength="24.3" lengthAdjust="spacingAndGlyphs" stroke="#666666" stroke-width="0.2">27. Jun</text>
<rect x="140.90" y="531.1" width="1" height="6.2" fill="#ccd6eb"/>
<text x="141.4" y="542.8" font-size="7.8" fill="#666666" text-anchor="middle" textLength="19.8" lengthAdjust="spacingAndGlyphs" stroke="#666666" stroke-width="0.2">04:00</text>
<rect x="215.90" y="531.1" width="1" height="6.2" fill="#ccd6eb"/>
<text x="216.4" y="542.8" font-size="7.8" fill="#666666" text-anchor="middle" textLength="19.8" lengthAdjust="spacingAndGlyphs" stroke="#666666" stroke-width="0.2">08:00</text>
<rect x="290.90" y="531.1" width="1" height="6.2" fill="#ccd6eb"/>
<text x="291.4" y="542.8" font-size="7.8" fill="#666666" text-anchor="middle" textLength="19.8" lengthAdjust="spacingAndGlyphs" stroke="#666666" stroke-width="0.2">12:00</text>
<rect x="365.90" y="531.1" width="1" height="6.2" fill="#ccd6eb"/>
<text x="366.4" y="542.8" font-size="7.8" fill="#666666" text-anchor="middle" textLength="19.8" lengthAdjust="spacingAndGlyphs" stroke="#666666" stroke-width="0.2">16:00</text>
<rect x="440.90" y="531.1" width="1" height="6.2" fill="#ccd6eb"/>
<text x="441.4" y="542.8" font-size="7.8" fill="#666666" text-anchor="middle" textLength="19.8" lengthAdjust="spacingAndGlyphs" stroke="#666666" stroke-width="0.2">20:00</text>
<text x="256.7" y="334.6" font-size="12.5" fill="#333333" text-anchor="middle" textLength="49.8" lengthAdjust="spacingAndGlyphs">Umidade</text>
<rect x="465.2" y="328.5" width="11" height="2" rx="1" fill="#686868"/>
<rect x="465.2" y="331.9" width="11" height="2" rx="1" fill="#686868"/>
<rect x="465.2" y="335.3" width="11" height="2" rx="1" fill="#686868"/>
<path d="M67.7,505.2 C67.9,505.1 68.9,504.0 69.4,504.1 C69.9,504.2 70.9,506.3 71.6,506.3 C72.3,506.3 73.6,504.0 74.3,504.1 C75.0,504.2 76.4,506.8 77.1,506.9 C77.8,507.0 79.0,504.9 79.8,504.6 C80.6,504.3 82.3,505.0 83.1,504.9 C83.9,504.8 85.0,503.2 85.9,503.5 C86.8,503.8 88.8,506.8 89.7,507.1 C90.6,507.4 92.3,506.2 93.0,505.7 C93.7,505.2 94.7,505.5 95.2,503.0 C95.7,500.5 96.5,490.7 96.9,487.0 C97.3,483.3 97.8,478.1 98.5,474.9 C99.2,471.7 101.2,466.0 101.9,462.9 C102.6,459.8 102.6,453.9 103.5,451.9 C104.4,449.9 107.4,449.9 108.5,448.0 C109.6,446.1 111.0,438.5 111.8,437.5 C112.6,436.5 113.8,440.5 114.5,440.8 C115.2,441.1 116.2,438.9 116.7,439.7 C117.2,440.5 118.0,446.2 118.4,446.9 C118.8,447.6 119.6,444.8 120.0,445.2 C120.4,445.6 121.0,452.2 121.7,450.2 C122.4,448.2 124.5,433.0 125.5,430.4 C126.5,427.8 128.4,432.2 129.4,430.4 C130.4,428.6 132.1,420.7 133.2,417.0 C134.3,413.3 136.2,406.0 137.6,402.9 C139.0,399.8 142.7,395.5 143.7,394.1 C144.7,392.7 144.8,393.4 145.4,392.4 C146.0,391.4 147.3,388.0 148.1,386.9 C148.9,385.8 150.4,383.6 151.4,383.9 C152.4,384.2 154.7,388.4 155.8,389.1 C156.9,389.8 158.7,388.8 159.7,389.1 C160.7,389.4 162.6,390.8 163.5,391.1 C164.4,391.4 165.9,391.7 166.8,391.6 C167.7,391.5 169.5,390.1 170.1,390.0 C170.7,389.9 170.8,390.7 171.6,390.5 C172.4,390.3 172.5,388.9 176.0,388.6 C179.5,388.3 194.8,388.7 198.0,388.6 C201.2,388.5 199.0,387.9 199.7,388.0 C200.4,388.1 202.2,388.7 203.0,389.1 C203.8,389.5 205.1,390.9 205.7,391.1 C206.3,391.3 206.8,390.7 207.4,390.8 C208.0,390.9 209.4,392.1 210.2,392.2 C211.0,392.3 212.6,391.3 213.5,391.3 C214.4,391.3 215.6,392.8 216.8,392.4 C218.0,392.0 221.2,389.4 222.3,388.6 C223.4,387.8 224.0,386.5 225.0,386.2 C226.0,385.9 229.1,386.5 230.0,386.2 C230.9,385.9 230.9,385.3 231.6,384.2 C232.3,383.1 234.6,379.8 235.5,378.1 C236.4,376.4 237.2,372.4 238.2,371.5 C239.2,370.6 242.1,371.9 243.2,371.5 C244.3,371.1 245.3,369.2 246.5,368.8 C247.7,368.4 250.5,368.4 252.0,368.8 C253.5,369.2 256.2,371.9 257.5,371.5 C258.8,371.1 260.6,366.5 261.9,365.7 C263.2,364.9 266.3,365.3 267.4,365.7 C268.5,366.1 269.7,367.6 270.5,368.8 C271.3,370.0 272.6,374.0 273.3,374.8 C274.0,375.6 274.8,374.6 275.5,375.0 C276.2,375.4 277.6,377.7 278.3,378.1 C279.0,378.5 279.8,377.7 280.5,378.3 C281.2,378.9 282.5,381.7 283.2,382.3 C283.9,382.9 284.7,382.4 285.4,383.1 C286.1,383.8 287.5,387.5 288.2,387.8 C288.9,388.1 290.0,385.5 290.9,385.3 C291.8,385.1 294.3,386.1 295.3,386.4 C296.3,386.7 297.7,388.1 298.6,387.8 C299.5,387.5 301.2,385.2 301.9,384.2 C302.6,383.2 303.1,380.5 304.1,380.6 C305.1,380.7 308.1,384.7 309.1,385.0 C310.1,385.3 311.2,382.6 311.9,383.1 C312.6,383.6 313.9,388.6 314.6,389.1 C315.3,389.6 316.6,386.8 317.4,386.9 C318.2,387.0 319.8,390.5 320.7,390.2 C321.6,389.9 323.1,384.0 324.5,384.7 C325.9,385.4 329.3,393.5 331.1,395.7 C332.9,397.9 336.4,399.9 337.7,401.3 C339.0,402.7 339.6,405.2 340.5,406.2 C341.4,407.2 343.4,409.7 344.3,409.0 C345.2,408.3 346.1,402.6 347.1,401.3 C348.1,400.0 350.4,400.1 351.5,399.6 C352.6,399.1 354.4,398.0 355.4,397.7 C356.4,397.4 358.1,398.1 359.2,397.4 C360.3,396.7 362.6,394.5 363.6,392.4 C364.6,390.3 366.2,383.0 366.9,381.4 C367.6,379.8 368.2,382.3 369.1,380.6 C370.0,378.9 371.8,370.4 373.5,368.8 C375.2,367.2 380.7,369.2 382.2,368.8 C383.7,368.4 384.2,366.0 384.9,365.5 C385.6,365.0 385.8,364.9 387.7,364.9 C389.6,364.9 397.5,365.5 399.2,365.8 C400.9,366.1 400.2,367.1 400.6,367.1 C401.0,367.1 400.6,365.7 402.5,365.5 C404.4,365.3 412.6,365.3 414.6,365.5 C416.6,365.7 416.8,367.3 417.4,367.3 C418.0,367.3 416.9,365.7 419.1,365.5 C421.3,365.3 431.4,364.8 433.9,365.5 C436.4,366.2 436.7,369.2 437.8,370.4 C438.9,371.6 440.8,373.7 442.2,374.3 C443.6,374.9 447.1,374.2 448.2,374.6 C449.3,375.0 449.6,377.2 450.4,377.6 C451.2,378.0 453.4,377.1 454.3,377.9 C455.2,378.7 455.8,382.1 457.0,383.6 C458.2,385.1 461.7,388.4 463.1,389.1 C464.5,389.8 466.5,389.1 467.5,388.9 C468.5,388.7 469.9,388.1 470.8,387.8 C471.7,387.5 473.7,386.6 474.1,386.4" fill="none" stroke="#1a1aff" stroke-width="1.6" stroke-linejoin="round" stroke-linecap="round"/>
<text x="433.9" y="397.7" font-size="8.3" fill="#1a1aff" font-weight="bold" textLength="34.2" lengthAdjust="spacingAndGlyphs" stroke="#1a1aff" stroke-width="0.25">Umidade</text>
<rect x="551.8" y="364.90" width="401.5" height="1" fill="#e9e9e9"/>
<text x="542" y="367.7" font-size="7.6" fill="#666666" text-anchor="end" textLength="30.7" lengthAdjust="spacingAndGlyphs" stroke="#666666" stroke-width="0.2">1020hPa</text>
<rect x="551.8" y="392.80" width="401.5" height="1" fill="#e9e9e9"/>
<text x="542" y="395.6" font-size="7.6" fill="#666666" text-anchor="end" textLength="30.7" lengthAdjust="spacingAndGlyphs" stroke="#666666" stroke-width="0.2">1018hPa</text>
<rect x="551.8" y="419.80" width="401.5" height="1" fill="#e9e9e9"/>
<text x="542" y="422.6" font-size="7.6" fill="#666666" text-anchor="end" textLength="30.7" lengthAdjust="spacingAndGlyphs" stroke="#666666" stroke-width="0.2">1016hPa</text>
<rect x="551.8" y="447.00" width="401.5" height="1" fill="#e9e9e9"/>
<text x="542" y="449.8" font-size="7.6" fill="#666666" text-anchor="end" textLength="30.7" lengthAdjust="spacingAndGlyphs" stroke="#666666" stroke-width="0.2">1014hPa</text>
<rect x="551.8" y="474.80" width="401.5" height="1" fill="#e9e9e9"/>
<text x="542" y="477.6" font-size="7.6" fill="#666666" text-anchor="end" textLength="30.7" lengthAdjust="spacingAndGlyphs" stroke="#666666" stroke-width="0.2">1012hPa</text>
<rect x="551.8" y="503.00" width="401.5" height="1" fill="#e9e9e9"/>
<text x="542" y="505.8" font-size="7.6" fill="#666666" text-anchor="end" textLength="30.7" lengthAdjust="spacingAndGlyphs" stroke="#666666" stroke-width="0.2">1010hPa</text>
<text x="542" y="533.2" font-size="7.6" fill="#666666" text-anchor="end" textLength="30.7" lengthAdjust="spacingAndGlyphs" stroke="#666666" stroke-width="0.2">1008hPa</text>
<rect x="551.8" y="530.40" width="401.5" height="1" fill="#ccd6eb"/>
<rect x="553.60" y="530.9" width="1" height="6.2" fill="#ccd6eb"/>
<text x="554.1" y="542.8" font-size="7.8" fill="#666666" text-anchor="middle" textLength="24.3" lengthAdjust="spacingAndGlyphs" stroke="#666666" stroke-width="0.2">27. Jun</text>
<rect x="627.00" y="530.9" width="1" height="6.2" fill="#ccd6eb"/>
<text x="627.5" y="542.8" font-size="7.8" fill="#666666" text-anchor="middle" textLength="19.8" lengthAdjust="spacingAndGlyphs" stroke="#666666" stroke-width="0.2">04:00</text>
<rect x="700.40" y="530.9" width="1" height="6.2" fill="#ccd6eb"/>
<text x="700.9" y="542.8" font-size="7.8" fill="#666666" text-anchor="middle" textLength="19.8" lengthAdjust="spacingAndGlyphs" stroke="#666666" stroke-width="0.2">08:00</text>
<rect x="773.80" y="530.9" width="1" height="6.2" fill="#ccd6eb"/>
<text x="774.3" y="542.8" font-size="7.8" fill="#666666" text-anchor="middle" textLength="19.8" lengthAdjust="spacingAndGlyphs" stroke="#666666" stroke-width="0.2">12:00</text>
<rect x="847.20" y="530.9" width="1" height="6.2" fill="#ccd6eb"/>
<text x="847.7" y="542.8" font-size="7.8" fill="#666666" text-anchor="middle" textLength="19.8" lengthAdjust="spacingAndGlyphs" stroke="#666666" stroke-width="0.2">16:00</text>
<rect x="920.60" y="530.9" width="1" height="6.2" fill="#ccd6eb"/>
<text x="921.1" y="542.8" font-size="7.8" fill="#666666" text-anchor="middle" textLength="19.8" lengthAdjust="spacingAndGlyphs" stroke="#666666" stroke-width="0.2">20:00</text>
<text x="732.5" y="334.6" font-size="12.5" fill="#333333" text-anchor="middle" textLength="43" lengthAdjust="spacingAndGlyphs">Pressão</text>
<rect x="941.0" y="328.6" width="11" height="2" rx="1" fill="#686868"/>
<rect x="941.0" y="332.0" width="11" height="2" rx="1" fill="#686868"/>
<rect x="941.0" y="335.40000000000003" width="11" height="2" rx="1" fill="#686868"/>
<path d="M555.3,497.3 C555.5,497.4 556.9,498.6 557.2,498.6 C557.5,498.6 559.0,497.5 559.4,497.3 C559.8,497.1 561.5,496.0 561.9,496.0 C562.3,496.0 563.9,497.6 564.3,497.5 C564.7,497.4 566.1,494.5 566.5,494.5 C566.9,494.5 568.8,496.8 569.3,497.0 C569.8,497.2 572.2,497.2 572.6,497.3 C573.0,497.4 573.9,498.6 574.2,498.6 C574.5,498.6 575.6,497.3 575.9,497.3 C576.2,497.3 577.2,498.4 577.5,498.4 C577.8,498.4 579.4,497.0 579.7,497.0 C580.0,497.0 581.1,499.0 581.4,498.6 C581.7,498.2 582.6,493.4 583.0,492.6 C583.4,491.8 585.8,489.3 586.3,489.0 C586.8,488.7 588.6,488.9 589.1,489.0 C589.6,489.1 591.5,490.6 591.9,490.7 C592.3,490.8 593.7,490.3 594.1,490.1 C594.5,489.9 595.9,488.8 596.3,488.7 C596.7,488.6 598.0,488.7 598.5,489.0 C599.0,489.3 601.3,491.9 601.8,492.0 C602.3,492.1 603.6,490.6 604.0,490.4 C604.4,490.2 606.2,490.5 606.7,490.1 C607.2,489.7 609.5,485.5 610.0,485.2 C610.5,484.9 611.9,486.4 612.2,486.3 C612.5,486.2 613.6,483.9 613.9,483.8 C614.2,483.7 615.7,485.0 616.1,484.9 C616.5,484.8 617.9,482.2 618.3,482.1 C618.7,482.0 620.0,483.6 620.5,483.5 C621.0,483.4 623.2,481.7 623.8,481.0 C624.3,480.3 626.6,475.9 627.1,475.5 C627.6,475.1 630.0,476.8 630.4,476.6 C630.8,476.4 631.7,473.9 632.0,473.6 C632.3,473.3 633.8,473.3 634.3,473.0 C634.8,472.7 637.6,470.0 638.1,469.5 C638.6,469.0 639.5,467.1 639.8,467.0 C640.1,466.9 641.5,468.6 642.0,468.4 C642.5,468.1 645.2,464.2 645.8,464.0 C646.4,463.8 648.5,466.2 649.1,466.4 C649.7,466.6 652.5,467.0 653.0,466.7 C653.5,466.4 654.3,463.3 654.6,463.1 C654.9,462.9 656.3,464.5 656.8,464.2 C657.3,463.9 659.5,460.5 660.1,459.8 C660.7,459.1 663.3,456.2 664.0,455.5 C664.7,454.8 667.6,452.2 668.2,451.7 C668.8,451.2 671.0,450.5 671.5,450.0 C672.0,449.5 673.8,446.1 674.3,445.6 C674.8,445.1 677.6,444.4 678.1,444.0 C678.6,443.6 679.9,441.0 680.3,440.7 C680.7,440.4 682.1,440.5 682.5,440.1 C682.9,439.7 684.3,436.1 684.7,435.4 C685.1,434.7 686.4,431.4 686.9,431.3 C687.4,431.2 689.7,434.2 690.2,434.1 C690.8,434.0 692.9,430.8 693.5,430.2 C694.1,429.6 697.4,427.3 698.0,426.9 C698.6,426.5 700.7,425.6 701.3,425.2 C701.9,424.8 705.1,422.7 705.7,422.5 C706.3,422.3 708.5,422.8 709.0,422.5 C709.5,422.2 711.8,419.3 712.3,418.9 C712.8,418.5 714.5,418.4 715.0,418.1 C715.5,417.8 717.8,415.1 718.3,414.8 C718.8,414.5 720.3,414.6 721.1,414.0 C721.9,413.4 726.9,408.2 727.7,407.6 C728.5,407.0 730.6,406.5 731.0,406.5 C731.4,406.5 732.3,407.4 732.6,407.4 C732.9,407.4 733.8,406.4 734.3,406.3 C734.8,406.2 738.2,406.1 738.7,406.0 C739.2,405.9 740.1,404.9 740.4,404.9 C740.7,404.9 742.2,406.6 742.6,406.5 C743.0,406.4 744.4,404.0 744.8,403.8 C745.2,403.6 747.1,404.6 747.5,404.5 C747.9,404.4 748.9,402.2 749.2,402.1 C749.5,402.0 750.9,403.4 751.4,403.4 C751.9,403.4 754.7,402.3 755.2,402.3 C755.7,402.3 756.6,403.4 756.9,403.4 C757.2,403.4 758.1,401.8 758.5,401.9 C758.9,402.0 760.7,404.9 761.3,404.9 C761.9,404.9 764.8,402.2 765.5,402.0 C766.2,401.8 768.9,402.4 769.4,402.6 C769.9,402.8 770.7,404.6 771.0,404.8 C771.3,405.1 772.7,405.2 773.2,405.6 C773.7,406.0 776.0,409.0 776.5,409.2 C777.0,409.4 779.3,407.7 779.8,407.8 C780.3,407.9 782.1,409.8 782.6,410.3 C783.1,410.9 784.9,414.1 785.3,414.4 C785.7,414.7 787.0,414.6 787.5,414.4 C788.0,414.2 790.2,411.8 790.8,411.7 C791.3,411.6 793.3,412.7 794.1,412.8 C794.9,412.9 800.0,412.7 800.7,412.8 C801.4,412.9 802.0,414.7 802.4,414.4 C802.8,414.1 804.7,410.3 805.2,409.7 C805.7,409.1 807.4,407.4 807.9,407.5 C808.4,407.6 810.7,410.1 811.2,410.3 C811.7,410.5 813.6,409.8 814.0,409.7 C814.4,409.6 815.8,409.2 816.2,408.9 C816.6,408.6 818.3,406.3 818.9,406.4 C819.5,406.5 822.7,410.5 823.3,410.6 C823.9,410.7 826.1,407.7 826.6,407.5 C827.1,407.3 828.8,407.9 829.4,408.1 C830.0,408.3 833.3,410.2 833.8,410.3 C834.3,410.4 834.9,410.3 835.4,409.7 C835.9,409.1 838.8,403.2 839.3,402.6 C839.8,402.0 841.1,401.9 841.5,402.0 C841.9,402.1 843.4,403.4 843.7,403.3 C844.0,403.2 845.0,400.5 845.4,400.4 C845.8,400.3 847.6,402.0 848.1,402.0 C848.6,402.0 850.5,400.4 850.9,400.4 C851.3,400.4 852.7,402.1 853.1,402.0 C853.5,401.9 855.4,399.8 855.8,399.3 C856.2,398.8 857.5,396.3 858.0,395.6 C858.5,394.9 860.9,391.4 861.3,391.0 C861.7,390.6 862.7,390.7 863.0,391.0 C863.3,391.3 864.2,394.9 864.6,394.9 C865.0,394.9 866.9,391.6 867.4,391.2 C867.9,390.8 869.8,390.2 870.1,390.1 C870.4,390.0 870.6,389.4 871.0,389.4 C871.4,389.4 873.8,390.0 874.3,389.6 C874.8,389.2 876.1,386.2 877.1,385.2 C878.1,384.2 884.9,377.6 885.9,377.3 C886.9,377.0 888.6,381.4 889.2,381.4 C889.8,381.4 892.3,377.4 893.0,377.0 C893.7,376.6 897.5,377.1 898.0,377.0 C898.5,376.9 899.2,376.0 899.6,375.9 C900.0,375.8 902.6,375.8 903.0,375.6 C903.4,375.4 903.9,373.3 904.1,373.3 C904.3,373.3 905.3,375.8 905.7,375.9 C906.1,376.0 908.1,374.8 908.5,374.8 C908.9,374.8 910.4,376.2 910.7,375.9 C911.0,375.6 911.4,372.1 911.8,371.5 C912.2,370.9 914.6,369.3 915.1,368.7 C915.6,368.1 916.9,364.6 917.3,364.5 C917.7,364.4 919.6,367.5 920.0,367.6 C920.4,367.7 921.7,365.7 922.2,365.4 C922.7,365.1 925.0,363.8 925.5,363.8 C926.0,363.8 928.3,365.1 928.8,365.4 C929.3,365.7 931.2,367.6 931.6,367.4 C932.0,367.2 932.7,363.8 933.2,363.4 C933.7,363.0 936.6,363.4 937.1,363.2 C937.6,363.0 938.9,360.7 939.3,360.5 C939.7,360.3 941.1,360.7 941.5,361.0 C941.9,361.3 943.2,364.3 943.7,364.5 C944.2,364.7 946.5,363.5 947.0,363.2 C947.5,362.9 950.0,360.7 950.3,360.5" fill="none" stroke="#333333" stroke-width="1.5" stroke-linejoin="round" stroke-linecap="round"/>
<text x="922.2" y="377.5" font-size="8.3" fill="#333333" font-weight="bold" textLength="29.8" lengthAdjust="spacingAndGlyphs" stroke="#333333" stroke-width="0.25">Pressão</text>
<rect x="971" y="54" width="11" height="501.5" fill="#f1f1f1"/>
<rect x="971" y="74" width="11" height="437.5" fill="#cbcbcb"/>
<path d="M973.6,61.6 L976.5,58.7 L979.4,61.6" fill="none" stroke="#505050" stroke-width="1.8"/>
<path d="M973.8,548.8 L976.5,551.5 L979.2,548.8" fill="none" stroke="#505050" stroke-width="1.6"/>
<rect x="989" y="0" width="11" height="563" fill="#f1f1f1"/>
<rect x="989" y="25.6" width="11" height="526.1" fill="#a8a8a8"/>
<path d="M991.8,7 L994.5,4.3 L997.2,7" fill="none" stroke="#505050" stroke-width="1.6"/>
<path d="M991.8,556.5 L994.5,559.2 L997.2,556.5" fill="none" stroke="#a3a3a3" stroke-width="1.4"/>
</svg></body></html>
